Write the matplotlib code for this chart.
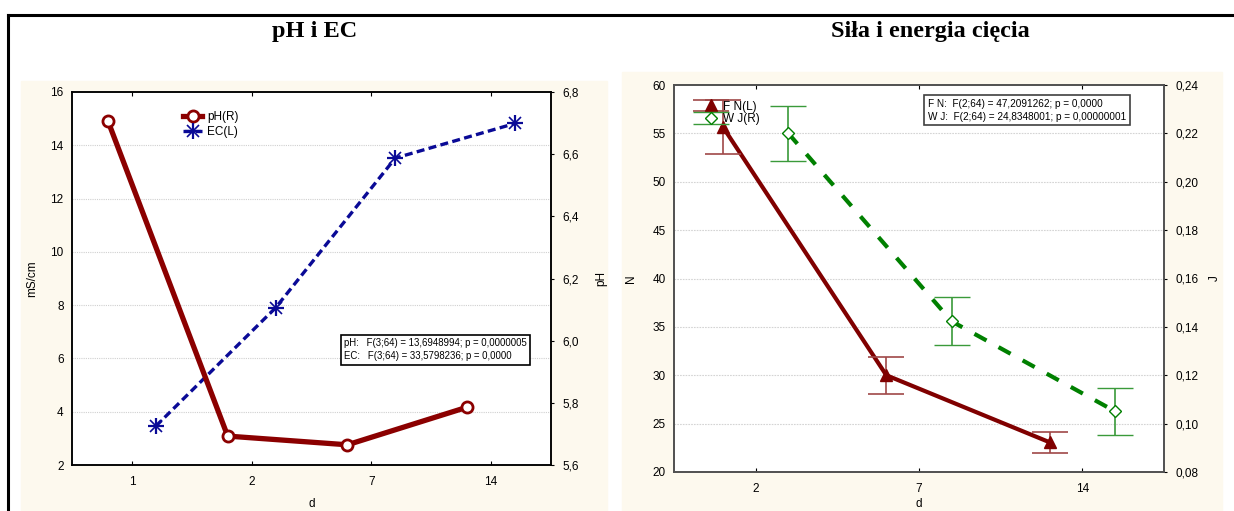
import numpy as np
import matplotlib.pyplot as plt
from matplotlib.patches import Rectangle
from matplotlib.lines import Line2D
from matplotlib.ticker import FuncFormatter

# ---- dane: pH i EC ----
days_a = ['1', '2', '7', '14']
ph = [6.707, 5.693, 5.665, 5.786]
ec = [3.46, 7.9, 13.52, 14.82]

# ---- dane: siła i energia cięcia ----
days_b = ['2', '7', '14']
force = [55.65, 30.0, 23.07]
force_err = [2.75, 1.9, 1.1]
energy = [0.220, 0.1423, 0.1051]
energy_err = [0.0115, 0.0100, 0.0097]

stats_a = 'pH:   F(3;64) = 13,6948994; p = 0,0000005\nEC:   F(3;64) = 33,5798236; p = 0,0000'
stats_b = 'F N:  F(2;64) = 47,2091262; p = 0,0000\nW J:  F(2;64) = 24,8348001; p = 0,00000001'

plt.rcParams['font.family'] = ['Liberation Sans', 'DejaVu Sans']
plt.rcParams['font.size'] = 8.5

W, H = 1234, 511
fig = plt.figure(figsize=(W / 100, H / 100), dpi=100, facecolor='white')


def box(x0, y0, x1, y1):
    # prostokąt w pikselach (od góry) -> współrzędne figury
    return [x0 / W, 1 - y1 / H, (x1 - x0) / W, (y1 - y0) / H]


comma2 = FuncFormatter(lambda v, p: ('%.2f' % v).replace('.', ','))
comma1 = FuncFormatter(lambda v, p: ('%.1f' % v).replace('.', ','))

# tła paneli
cream = '#fdf9ee'
fig.patches.append(Rectangle((21 / W, 0), (607 - 21) / W, 1 - 81 / H,
                             transform=fig.transFigure, color=cream, zorder=-5))
fig.patches.append(Rectangle((622 / W, 0), (1222 - 622) / W, 1 - 72 / H,
                             transform=fig.transFigure, color=cream, zorder=-5))
# ramka
fig.add_artist(Line2D([8 / W, 1], [1 - 15 / H] * 2, color='black', lw=2.2))
fig.add_artist(Line2D([8 / W] * 2, [0, 1 - 15 / H], color='black', lw=2.2))

title_font = dict(family=['Liberation Serif', 'DejaVu Serif'], weight='bold', size=17.5,
                  ha='center', va='center')
fig.text(315 / W, 1 - 32 / H, 'pH i EC', **title_font)
fig.text(930 / W, 1 - 32 / H, 'Siła i energia cięcia', **title_font)

##########################################
# wykres 1: pH i EC
ax1 = fig.add_axes(box(72, 92, 551, 465))
ax1r = ax1.twinx()
xa = np.arange(len(days_a))

ax1.set_xlim(-0.5, 3.5)
ax1.set_ylim(2, 16)
ax1.set_yticks(np.arange(2, 17, 2))
ax1r.set_ylim(5.6, 6.8)
ax1r.set_yticks(np.arange(5.6, 6.81, 0.2))
ax1r.yaxis.set_major_formatter(comma1)
ax1.set_xticks(xa)
ax1.set_xticklabels(days_a)
for y in range(4, 16, 2):
    ax1.axhline(y, color='#d0d0d0', lw=0.8, ls=(0, (1, 1)), zorder=0)

ec_line, = ax1.plot(xa + 0.2, ec, color='#0a0a96', lw=2.4, dashes=(2.4, 1.3), zorder=3)
ec_m1, = ax1.plot(xa + 0.2, ec, ls='none', marker='+', ms=12, mew=1.6, color='#0a0a96', zorder=4)
ec_m2, = ax1.plot(xa + 0.2, ec, ls='none', marker='x', ms=9, mew=1.2, color='#0a0a96', zorder=4)
ph_line, = ax1r.plot(xa - 0.2, ph, color='#8b0000', lw=3.8, marker='o', ms=8,
                     mfc='white', mec='#8b0000', mew=2, zorder=3)

ax1.legend([ph_line, (ec_line, ec_m1, ec_m2)], ['pH(R)', 'EC(L)'], loc='upper left',
           bbox_to_anchor=(0.22, 0.965), frameon=False, fontsize=8.5, handlelength=1.6,
           handletextpad=0.4, labelspacing=0.25, borderpad=0)

ax1.text(0.568, 0.34, stats_a, transform=ax1.transAxes, fontsize=6.9, va='top', ha='left',
         linespacing=1.4,
         bbox=dict(boxstyle='square,pad=0.35', fc='white', ec='black', lw=1.2), zorder=6)

ax1.set_xlabel('d', fontsize=8.5, labelpad=7)
ax1.set_ylabel('mS/cm', fontsize=8.5, labelpad=9)
ax1r.set_ylabel('pH', fontsize=8.5, labelpad=12)

for a in (ax1, ax1r):
    a.tick_params(direction='in', length=3, width=0.8, pad=6, labelsize=8.5)
    for s in a.spines.values():
        s.set_linewidth(1.1)
ax1.tick_params(axis='x', top=True, pad=8)
ax1.tick_params(axis='y', length=0)
ax1r.tick_params(axis='y', direction='out', length=2)

##########################################
# wykres 2: siła i energia cięcia
ax2 = fig.add_axes(box(674, 85, 1164, 472))
ax2r = ax2.twinx()
xb = np.arange(len(days_b))

ax2.set_xlim(-0.5, 2.5)
ax2.set_ylim(20, 60)
ax2.set_yticks(np.arange(20, 61, 5))
ax2r.set_ylim(0.08, 0.24)
ax2r.set_yticks(np.arange(0.08, 0.241, 0.02))
ax2r.yaxis.set_major_formatter(comma2)
ax2.set_xticks(xb)
ax2.set_xticklabels(days_b)
for y in range(25, 60, 5):
    ax2.axhline(y, color='#d4d4d4', lw=0.8, ls=(0, (1.5, 1)), zorder=0)

ax2.plot(xb - 0.2, force, color='#800000', lw=3, zorder=3)
fn = ax2.errorbar(xb - 0.2, force, yerr=force_err, fmt='^', ms=9, color='#800000',
                  ecolor='#a04848', elinewidth=1.2, capsize=13, capthick=1.2, zorder=4)
ax2r.plot(xb + 0.2, energy, color='#008000', lw=3, dashes=(3.3, 3.3), zorder=3)
wj = ax2r.errorbar(xb + 0.2, energy, yerr=energy_err, fmt='D', ms=6, mfc='white',
                   mec='#008000', mew=1, color='#008000', ecolor='#3a9a3a',
                   elinewidth=1.2, capsize=13, capthick=1.2, zorder=4)

ax2r.legend([fn, wj], ['F N(L)', 'W J(R)'], loc='upper left', bbox_to_anchor=(0.05, 0.975),
            frameon=False, fontsize=8.5, handlelength=1.2, handletextpad=0.4,
            labelspacing=0.05, borderpad=0)

ax2r.text(0.518, 0.965, stats_b, transform=ax2.transAxes, fontsize=7.2, va='top', ha='left',
          linespacing=1.4,
          bbox=dict(boxstyle='square,pad=0.35', fc='white', ec='#404040', lw=1.2), zorder=6)

ax2.set_xlabel('d', fontsize=8.5, labelpad=2)
ax2.set_ylabel('N', fontsize=8.5, labelpad=11)
ax2r.set_ylabel('J', fontsize=8.5, labelpad=8)

for a in (ax2, ax2r):
    a.tick_params(direction='in', length=3, width=0.8, pad=6, labelsize=8.5)
    for s in a.spines.values():
        s.set_linewidth(1.2)
        s.set_color('#505050')
ax2.tick_params(axis='x', top=True, pad=8)
ax2.tick_params(axis='y', length=0)
ax2r.tick_params(axis='y', direction='out', length=2)

plt.savefig('out.png', dpi=100)
